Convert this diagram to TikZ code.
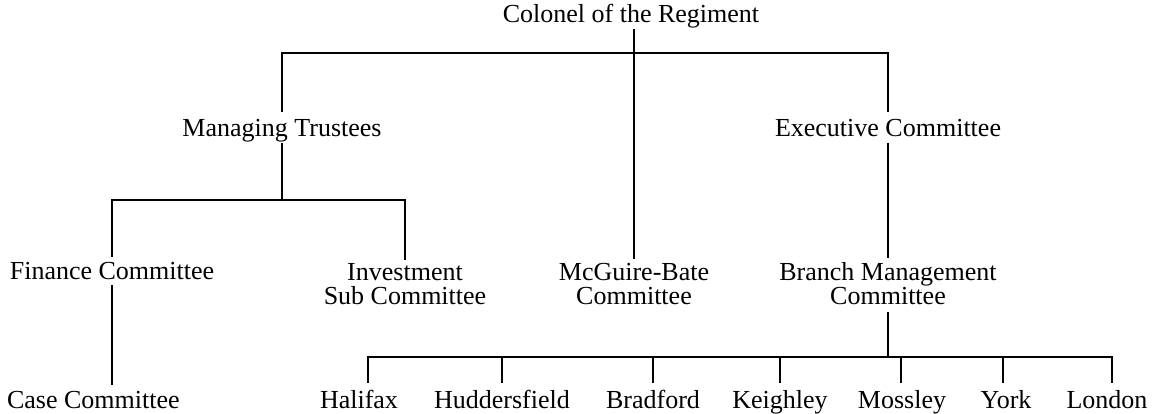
\documentclass[tikz,border=0pt]{standalone}
\usepackage{fontspec}
\setmainfont{Liberation Serif}
\usetikzlibrary{calc}
\begin{document}
\begin{tikzpicture}[x=1pt,y=-1pt,
  lbl/.style={inner sep=0pt, outer sep=0pt, font=\fontsize{26}{24}\selectfont, anchor=base},
  one/.style={lbl, text height=18pt, text depth=6pt},
  two/.style={lbl, align=center},
  conn/.style={line width=1.7pt, line cap=butt, line join=miter}]
\useasboundingbox[fill=white] (0,0) rectangle (1167,414);
% nodes
\node[one] (col) at (631,23) {Colonel of the Regiment};
\node[one] (mt) at (282,137) {Managing Trustees};
\node[one] (ec) at (888,137) {Executive Committee};
\node[one] (fc) at (112,279) {Finance Committee};
\node[two] (isc) at (405,304) {Investment\\Sub Committee};
\node[two] (mb) at (634,304) {McGuire-Bate\\Committee};
\node[two] (bm) at (888,304) {Branch Management\\Committee};
\node[one, anchor=base west] (cc) at (7,408) {Case Committee};
\node[one] (hal) at (359,408) {Halifax};
\node[one] (hud) at (502,408) {Huddersfield};
\node[one] (bra) at (653,408) {Bradford};
\node[one] (kei) at (780,408) {Keighley};
\node[one] (mos) at (902,408) {Mossley};
\node[one] (yor) at (1006,408) {York};
\node[one] (lon) at (1107,408) {London};
% bus coordinates
\coordinate (tb) at (634,53);
\coordinate (mbus) at (282,200);
\coordinate (bb) at (888,357);
% connectors
\draw[conn] (col.south -| mb.north) -- ($(mb.north)+(0,-4)$);
\draw[conn] ($(mt.north)+(0,-7)$) |- (tb) -| ($(ec.north)+(0,-7)$);
\draw[conn] (mt.south) -- (mbus);
\draw[conn] ($(fc.north)+(0,-4)$) |- (mbus) -| ($(isc.north)+(0,-3)$);
\draw[conn] (ec.south) -- ($(bm.north)+(0,-4)$);
\draw[conn] (fc.south) -- ($(fc.south |- cc.north)+(0,-5)$);
\draw[conn] ($(bm.south)+(0,8)$) -- (bb);
\draw[conn] ($(hal.north)+(9,-7)$) |- (bb) -| ($(lon.north)+(5,-7)$);
\foreach \n/\dx in {hud/0,bra/0,kei/0,mos/-1,yor/-3}
  \draw[conn] ($(\n.north)+(\dx,-7)$) -- ($(\n.north |- bb)+(\dx,0)$);
\end{tikzpicture}
\end{document}
